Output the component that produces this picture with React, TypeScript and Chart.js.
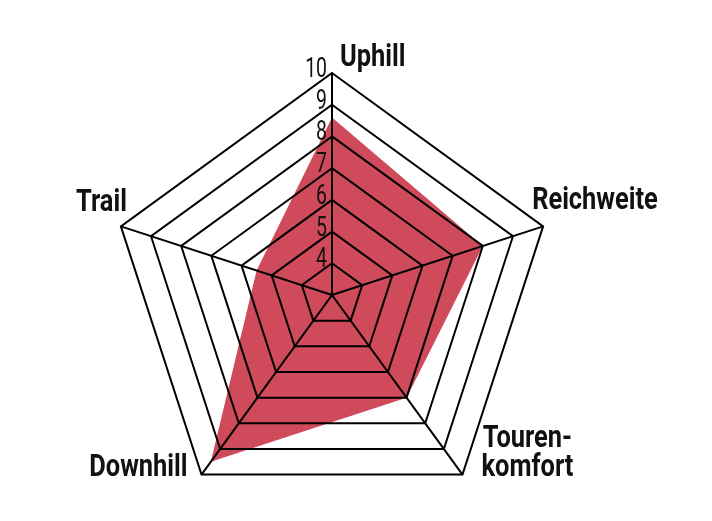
import { useEffect, useRef } from 'react'
import { Chart, registerables } from 'chart.js'

Chart.register(...registerables)

// bike rating per axis, scale runs 3..10
const axisLabels = ['Uphill', 'Reichweite', ['Touren-', 'komfort'], 'Downhill', 'Trail']
const ratings = [8.6, 8, 7, 9.5, 5.5]
const scaleMin = 3
const scaleMax = 10
const tickStep = 1

const fillColor = '#cf4b5b'
const fontStack = 'Roboto, "DejaVu Sans Condensed", sans-serif'

// where each axis name sits relative to its outer corner
const labelSpots = [
  { align: 'left', dx: 8, dy: -7 },
  { align: 'left', dx: -11, dy: -17 },
  { align: 'center', dx: 65, dy: -28 },
  { align: 'right', dx: -14, dy: 1 },
  { align: 'right', dx: 6, dy: -15 },
]

// draw text squeezed horizontally, the original uses a condensed face
function narrowText(ctx: CanvasRenderingContext2D, text: string, x: number, y: number, squeeze: number) {
  ctx.save()
  ctx.translate(x, y)
  ctx.scale(squeeze, 1)
  ctx.fillText(text, 0, 0)
  ctx.restore()
}

const radarText = {
  id: 'radarText',
  afterDraw(chart: any) {
    const scale = chart.scales.r
    const ctx = chart.ctx
    ctx.save()

    // tick numbers, left of the top spoke
    ctx.font = `400 27px ${fontStack}`
    ctx.fillStyle = '#111'
    ctx.textAlign = 'right'
    ctx.textBaseline = 'alphabetic'
    scale.ticks.forEach((tick: any) => {
      if (tick.value <= scaleMin) return
      const y = scale.yCenter - scale.getDistanceFromCenterForValue(tick.value)
      narrowText(ctx, tick.label, scale.xCenter - 5, y + 4, 0.72)
    })

    // axis names
    ctx.font = `700 31px ${fontStack}`
    ctx.fillStyle = '#111'
    const outer = scale.getDistanceFromCenterForValue(scaleMax)
    chart.data.labels.forEach((label: any, i: number) => {
      const p = scale.getPointPosition(i, outer)
      const spot = labelSpots[i]
      const lines = Array.isArray(label) ? label : [label]
      ctx.textAlign = spot.align
      lines.forEach((line: string, j: number) => {
        narrowText(ctx, line, p.x + spot.dx, p.y + spot.dy + j * 29, 0.82)
      })
    })
    ctx.restore()
  },
}

export default function App() {
  const canvasRef = useRef<HTMLCanvasElement>(null)

  useEffect(() => {
    if (!canvasRef.current) return
    const chart = new Chart(canvasRef.current, {
      type: 'radar',
      data: {
        labels: axisLabels,
        datasets: [
          {
            data: ratings,
            backgroundColor: fillColor,
            borderWidth: 0,
            pointRadius: 0,
            fill: true,
          },
        ],
      },
      options: {
        responsive: true,
        maintainAspectRatio: false,
        animation: false,
        layout: { padding: { left: 110, right: 158, top: 73, bottom: 4 } },
        plugins: {
          legend: { display: false },
          tooltip: { enabled: false },
        },
        scales: {
          r: {
            min: scaleMin,
            max: scaleMax,
            beginAtZero: false,
            ticks: { display: false, stepSize: tickStep },
            pointLabels: { display: false },
            grid: { color: '#000', lineWidth: 2, z: 1 },
            angleLines: { color: '#000', lineWidth: 2 },
          },
        },
      },
      plugins: [radarText],
    } as any)

    return () => {
      chart.destroy()
    }
  }, [])

  return (
    <div style={{ position: 'fixed', left: 0, top: 0, width: 712, height: 521, background: '#fff' }}>
      <canvas ref={canvasRef}></canvas>
    </div>
  )
}
